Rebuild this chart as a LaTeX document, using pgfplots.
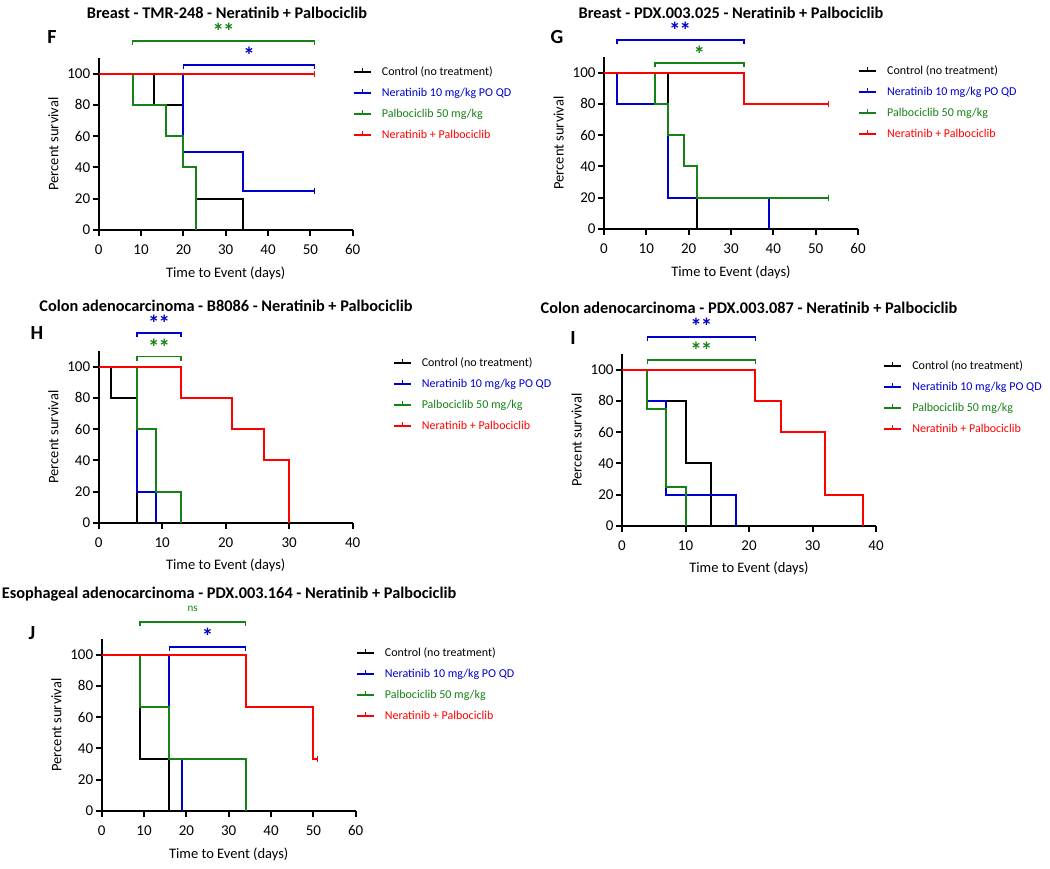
\documentclass[border=0pt]{standalone}
\usepackage{pgfplots}
\pgfplotsset{compat=1.18}
\usepackage{fontspec}
\setmainfont{Carlito}

\definecolor{kmblue}{RGB}{0,0,204}
\definecolor{kmgreen}{RGB}{20,130,20}
\definecolor{kmred}{RGB}{255,0,0}

\pgfplotsset{
  km/.style={
    scale only axis, width=254pt, height=172pt, anchor=south west,
    xmin=0, ymin=0, ymax=110,
    axis lines*=left, axis line style={line width=2pt},
    ytick={0,20,...,100},
    tick align=outside, major tick length=6pt,
    tick style={line width=2pt, black},
    ticklabel style={font=\fontsize{15}{17}\selectfont},
    xticklabel style={yshift=-5pt},
    yticklabel style={xshift=1pt},
    /pgf/number format/assume math mode=true,
    xlabel={Time to Event (days)}, ylabel={Percent survival},
    label style={font=\fontsize{14.5}{17}\selectfont},
    xlabel style={yshift=-5pt},
    ylabel style={yshift=2pt},
    clip=false,
    legend style={draw=none, fill=none, anchor=north west,
      font=\fontsize{12}{14}\selectfont, row sep=11pt, inner sep=0pt,
      nodes={inner xsep=10pt, inner ysep=0pt}},
    legend cell align=left,
    legend image code/.code={
      \draw[#1, mark=none] (0pt,0pt) -- (17pt,0pt);
      \draw[#1, mark=none, line width=1.2pt] (8.5pt,0pt) -- (8.5pt,4pt);},
    legend entries={Control (no treatment),
      \textcolor{kmblue}{Neratinib 10 mg/kg PO QD},
      \textcolor{kmgreen}{Palbociclib 50 mg/kg},
      \textcolor{kmred}{Neratinib + Palbociclib}},
  },
  surv/.style={const plot, line width=2pt, mark=none},
  cens/.style={mark=|, mark size=3pt, mark options={line width=1.4pt}, mark indices={#1}},
}
\tikzset{
  brk/.style={line width=1.6pt},
  stars/.style={font=\bfseries\fontsize{23}{23}\selectfont, inner sep=0pt},
  ttl/.style={font=\bfseries\fontsize{16.3}{18}\selectfont},
  lett/.style={font=\bfseries\fontsize{20}{20}\selectfont},
}
\newcommand{\two}{*\kern-1pt*}

\begin{document}
\begin{tikzpicture}
\useasboundingbox (0pt,0pt) rectangle (1050pt,-868pt);

% ---------- F ----------
\node[ttl] at (227pt,-13pt) {Breast - TMR-248 - Neratinib + Palbociclib};
\node[lett] at (52pt,-37pt) {F};
\begin{axis}[km, at={(98.7pt,-230pt)}, xmax=60, xtick={0,10,...,60},
  legend style={at={(1.0,0.95)}}]
\addplot[surv, black] coordinates {(0,100) (13,80) (20,40) (23,20) (34,0)};
\addplot[surv, kmblue, cens=4] coordinates {(0,100) (20,50) (34,25) (51,25)};
\addplot[surv, kmgreen] coordinates {(0,100) (8,80) (16,60) (20,40) (23,0)};
\addplot[surv, kmred, cens=2] coordinates {(0,100) (51,100)};
\draw[brk, kmgreen] (axis cs:8,118.4) |- (axis cs:51,121) -- (axis cs:51,118.4);
\node[stars, kmgreen] at (axis cs:29.5,127) {\two};
\draw[brk, kmblue] (axis cs:20,103) |- (axis cs:51,105.6) -- (axis cs:51,103);
\node[stars, kmblue] at (axis cs:35.5,111.5) {*};
\end{axis}

% ---------- G ----------
\node[ttl] at (731pt,-13pt) {Breast - PDX.003.025 - Neratinib + Palbociclib};
\node[lett] at (557pt,-37pt) {G};
\begin{axis}[km, at={(604pt,-229pt)}, xmax=60, xtick={0,10,...,60},
  legend style={at={(1.0,0.95)}}]
\addplot[surv, black] coordinates {(0,100) (15,20) (22,0)};
\addplot[surv, kmblue] coordinates {(0,100) (3,80) (15,20) (39,0)};
\addplot[surv, kmgreen, cens=6] coordinates {(0,100) (12,80) (15,60) (19,40) (22,20) (53,20)};
\addplot[surv, kmred, cens=3] coordinates {(0,100) (33,80) (53,80)};
\draw[brk, kmblue] (axis cs:3,118.4) |- (axis cs:33,121) -- (axis cs:33,118.4);
\node[stars, kmblue] at (axis cs:18,127) {\two};
\draw[brk, kmgreen] (axis cs:12,103.4) |- (axis cs:33,106) -- (axis cs:33,103.4);
\node[stars, kmgreen] at (axis cs:22.5,112) {*};
\end{axis}

% ---------- H ----------
\node[ttl] at (226pt,-306pt) {Colon adenocarcinoma - B8086 - Neratinib + Palbociclib};
\node[lett] at (37pt,-333pt) {H};
\begin{axis}[km, at={(98.7pt,-523pt)}, xmax=40, xtick={0,10,...,40},
  legend style={at={(1.157,0.96)}}]
\addplot[surv, black] coordinates {(0,100) (2,80) (6,0)};
\addplot[surv, kmblue] coordinates {(0,100) (6,20) (9,0)};
\addplot[surv, kmgreen] coordinates {(0,100) (6,60) (9,20) (13,0)};
\addplot[surv, kmred] coordinates {(0,100) (13,80) (21,60) (26,40) (30,0)};
\draw[brk, kmblue] (axis cs:6,119) |- (axis cs:13,121.6) -- (axis cs:13,119);
\node[stars, kmblue] at (axis cs:9.5,128) {\two};
\draw[brk, kmgreen] (axis cs:6,103.8) |- (axis cs:13,106.4) -- (axis cs:13,103.8);
\node[stars, kmgreen] at (axis cs:9.5,112.5) {\two};
\end{axis}

% ---------- I ----------
\node[ttl] at (749pt,-308pt) {Colon adenocarcinoma - PDX.003.087 - Neratinib + Palbociclib};
\node[lett] at (573pt,-338pt) {I};
\begin{axis}[km, at={(622pt,-526pt)}, xmax=40, xtick={0,10,...,40},
  legend style={at={(1.028,0.96)}}]
\addplot[surv, black] coordinates {(0,100) (4,80) (10,40) (14,0)};
\addplot[surv, kmblue] coordinates {(0,100) (4,80) (7,20) (18,0)};
\addplot[surv, kmgreen] coordinates {(0,100) (4,75) (7,25) (10,0)};
\addplot[surv, kmred] coordinates {(0,100) (21,80) (25,60) (32,20) (38,0)};
\draw[brk, kmblue] (axis cs:4,118.4) |- (axis cs:21,121) -- (axis cs:21,118.4);
\node[stars, kmblue] at (axis cs:12.5,128) {\two};
\draw[brk, kmgreen] (axis cs:4,103.5) |- (axis cs:21,106.1) -- (axis cs:21,103.5);
\node[stars, kmgreen] at (axis cs:12.5,112.5) {\two};
\end{axis}

% ---------- J ----------
\node[ttl] at (229pt,-594pt) {Esophageal adenocarcinoma - PDX.003.164 - Neratinib + Palbociclib};
\node[lett] at (32pt,-633pt) {J};
\begin{axis}[km, at={(101.7pt,-811pt)}, xmax=60, xtick={0,10,...,60},
  legend style={at={(1.0,0.95)}}]
\addplot[surv, black] coordinates {(0,100) (9,33.3) (16,0)};
\addplot[surv, kmblue] coordinates {(0,100) (16,33.3) (19,0)};
\addplot[surv, kmgreen] coordinates {(0,100) (9,66.7) (16,33.3) (34,0)};
\addplot[surv, kmred, cens=4] coordinates {(0,100) (34,66.7) (50,33.3) (51,33.3)};
\draw[brk, kmgreen] (axis cs:9,118.4) |- (axis cs:34,121) -- (axis cs:34,118.4);
\node[kmgreen, font=\fontsize{11}{11}\selectfont] at (axis cs:21.5,129.4) {ns};
\draw[brk, kmblue] (axis cs:16,102.4) |- (axis cs:34,105) -- (axis cs:34,102.4);
\node[stars, kmblue] at (axis cs:25,112) {*};
\end{axis}
\end{tikzpicture}
\end{document}
